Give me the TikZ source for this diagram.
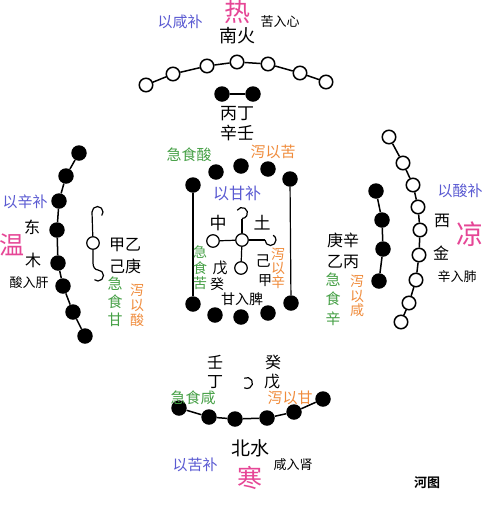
\documentclass[tikz,border=0pt]{standalone}
\usepackage{fontspec}
\newfontfamily\cjk{Noto Sans CJK SC}
\newfontfamily\cjkb{Noto Sans CJK SC Bold}
\definecolor{bu}{RGB}{90,90,210}
\definecolor{gr}{RGB}{70,160,70}
\definecolor{orr}{RGB}{240,140,60}
\definecolor{mg}{RGB}{230,70,150}
\tikzset{
  wc/.style={circle,draw=black,line width=1.5pt,fill=white,minimum size=13.5pt,inner sep=0pt},
  wcs/.style={circle,draw=black,line width=1.2pt,fill=white,minimum size=12.5pt,inner sep=0pt},
  bc/.style={circle,fill=black,minimum size=15.5pt,inner sep=0pt},
  ln/.style={line width=1.5pt},
  lt/.style={line width=1.2pt},
  t/.style={inner sep=0pt,font=\cjk\fontsize{#1}{#1}\selectfont},
  t/.default=15,
  v/.style 2 args={inner sep=0pt,align=center,font=\cjk\fontsize{#1}{#2}\selectfont},
}
\begin{document}
\begin{tikzpicture}[x=1pt,y=1pt]
\useasboundingbox[fill=white] (0,0) rectangle (490,-507);
% ---- south outer: 7 white
\foreach \n/\x/\y in {1/146/-85,2/173/-74,3/207/-66,4/237/-62,5/268/-64,6/300/-73,7/326/-82}
  \node[wc] (s\n) at (\x,\y) {};
\foreach \a/\b in {1/2,2/3,3/4,4/5,5/6,6/7} \draw[ln] (s\a) -- (s\b);
% south inner: 2 black
\node[bc] (si1) at (222,-94) {};
\node[bc] (si2) at (253,-94) {};
\draw[ln] (si1) -- (si2);
% ---- east outer: 8 black
\foreach \n/\x/\y in {1/79/-153,2/66/-176,3/59/-201,4/57/-230,5/58/-263,6/63/-286,7/73/-312,8/85/-336}
  \node[bc] (e\n) at (\x,\y) {};
\foreach \a/\b in {1/2,2/3,3/4,4/5,5/6,6/7,7/8} \draw[ln] (e\a) -- (e\b);
% east inner: 3 white (partly drawn)
\node[wcs] (ei2) at (93,-243) {};
\coordinate (ei1) at (92,-212);
\coordinate (ei3) at (93,-263);
\draw[lt] (97.5,-212) ++(180:5.5) arc[start angle=180,end angle=-40,radius=5.5];
\draw[lt] (ei1) -- (ei2);
\draw[lt] (ei2) -- (ei3) to[out=-90,in=180] (98,-270) arc[start angle=90,end angle=-130,radius=5.5];
% ---- west outer: 9 white
\foreach \n/\x/\y in {1/389/-137,2/403/-163,3/413/-185,4/418/-207,5/420/-230,6/419/-255,7/416/-280,8/409/-303,9/401/-322}
  \node[wc] (w\n) at (\x,\y) {};
\foreach \a/\b in {1/2,2/3,3/4,4/5,5/6,6/7,7/8,8/9} \draw[ln] (w\a) -- (w\b);
% west inner: 4 black
\foreach \n/\x/\y in {1/376/-191,2/382/-220,3/383/-249,4/379/-281}
  \node[bc] (wi\n) at (\x,\y) {};
\foreach \a/\b in {1/2,2/3,3/4} \draw[ln] (wi\a) -- (wi\b);
% ---- north outer: 6 black
\foreach \n/\x/\y in {1/179/-408,2/209/-417,3/235/-419,4/267/-418,5/294/-412,6/323/-399}
  \node[bc] (n\n) at (\x,\y) {};
\foreach \a/\b in {1/2,2/3,3/4,4/5,5/6} \draw[ln] (n\a) -- (n\b);
% north inner: 1 white (partly drawn)
\draw[lt] (247,-383) ++(120:5.5) arc[start angle=120,end angle=-120,radius=5.5];
% ---- centre: 10 black
\foreach \n/\x/\y in {1/216/-172,2/241/-166,3/268/-169,4/193/-185,5/290/-179,
                      6/193/-304,7/215/-315,8/241/-317,9/268/-313,10/291/-303}
  \node[bc] (c\n) at (\x,\y) {};
\draw[lt] (c4) -- (c6);
\draw[lt] (c5) -- (c10);
% centre: 5 white in a cross
\node[wcs] (cm) at (242,-240) {};
\node[wcs] (cl) at (213,-241) {};
\node[wcs] (cb) at (241,-268) {};
\coordinate (ct) at (242,-219);
\coordinate (cr) at (265,-240);
\draw[lt] (242,-213) ++(150:5.5) arc[start angle=150,end angle=-90,radius=5.5];
\draw[lt] (270.5,-240) ++(180:5.5) arc[start angle=-180,end angle=60,radius=5.5];
\draw[lt] (ct) -- (cm);
\draw[lt] (cm) -- (cb);
\draw[lt] (cl) -- (cm);
\draw[lt] (cm) -- (cr);
% ---- texts south
\node[t=26,text=mg] (re) at (237,-12) {热};
\node[t=15,text=bu] (s_b) at (180,-22) {以咸补};
\node[t=13] (s_r) at (280,-22) {苦入心};
\node[t=18] (s_n) at (237,-36) {南火};
\node[t=17] (s_1) at (237,-114) {丙丁};
\node[t=17] (s_2) at (237,-133) {辛壬};
\node[t=15,text=gr] (s_g) at (189,-155) {急食酸};
\node[t=15,text=orr] (s_o) at (273,-152) {泻以苦};
% ---- texts east
\node[t=15,text=bu] (e_b) at (25,-202) {以辛补};
\node[t=16] (e_d) at (32,-227) {东};
\node[t=25,text=mg] (e_w) at (12,-245) {温};
\node[t=16] (e_m) at (33,-260) {木};
\node[t=13] (e_r) at (29,-283) {酸入肝};
\node[t=16] (e_1) at (125,-245) {甲乙};
\node[t=16] (e_2) at (125,-266) {己庚};
\node[v={15}{18}, text=gr] (e_g) at (115,-302) {急\\食\\甘};
\node[v={14}{15}, text=orr] (e_o) at (137,-305) {泻\\以\\酸};
% ---- texts west
\node[t=15,text=bu] (w_b) at (460,-191) {以酸补};
\node[t=16] (w_x) at (442,-221) {西};
\node[t=27,text=mg] (w_l) at (470,-234) {凉};
\node[t=16] (w_j) at (441,-253) {金};
\node[t=13] (w_r) at (457,-277) {辛入肺};
\node[t=16] (w_1) at (343,-240) {庚辛};
\node[t=16] (w_2) at (343,-262) {乙丙};
\node[v={15}{19.5}, text=gr] (w_g) at (333,-299) {急\\食\\辛};
\node[v={14}{14.5}, text=orr] (w_o) at (357,-296) {泻\\以\\咸};
% ---- texts centre
\node[t=16,text=bu] (c_b) at (237,-193) {以甘补};
\node[t=17] (c_z) at (218,-223) {中};
\node[t=17] (c_t) at (262,-223) {土};
\node[v={14}{15.5}, text=gr] (c_g) at (200,-268) {急\\食\\苦};
\node[v={14}{14}, text=orr] (c_o) at (278,-268) {泻\\以\\辛};
\node[t=15] (c_1) at (220,-268) {戊};
\node[t=15] (c_2) at (263,-261) {己};
\node[t=14] (c_3) at (217,-284) {癸};
\node[t=14] (c_4) at (265,-281) {甲};
\node[t=14] (c_r) at (242,-299) {甘入脾};
% ---- texts north
\node[t=16] (n_1) at (215,-362) {壬};
\node[t=16] (n_2) at (215,-382) {丁};
\node[t=16] (n_3) at (273,-362) {癸};
\node[t=16] (n_4) at (272,-382) {戊};
\node[t=15,text=gr] (n_g) at (193,-398) {急食咸};
\node[t=15,text=orr] (n_o) at (290,-398) {泻以甘};
\node[t=19] (n_n) at (250,-448) {北水};
\node[t=15,text=bu] (n_b) at (195,-465) {以苦补};
\node[t=25,text=mg] (n_h) at (250,-478) {寒};
\node[t=13] (n_r) at (293,-465) {咸入肾};
\node[inner sep=0pt,font=\cjkb\fontsize{13}{13}\selectfont] (title) at (427,-483) {河图};
\end{tikzpicture}
\end{document}
